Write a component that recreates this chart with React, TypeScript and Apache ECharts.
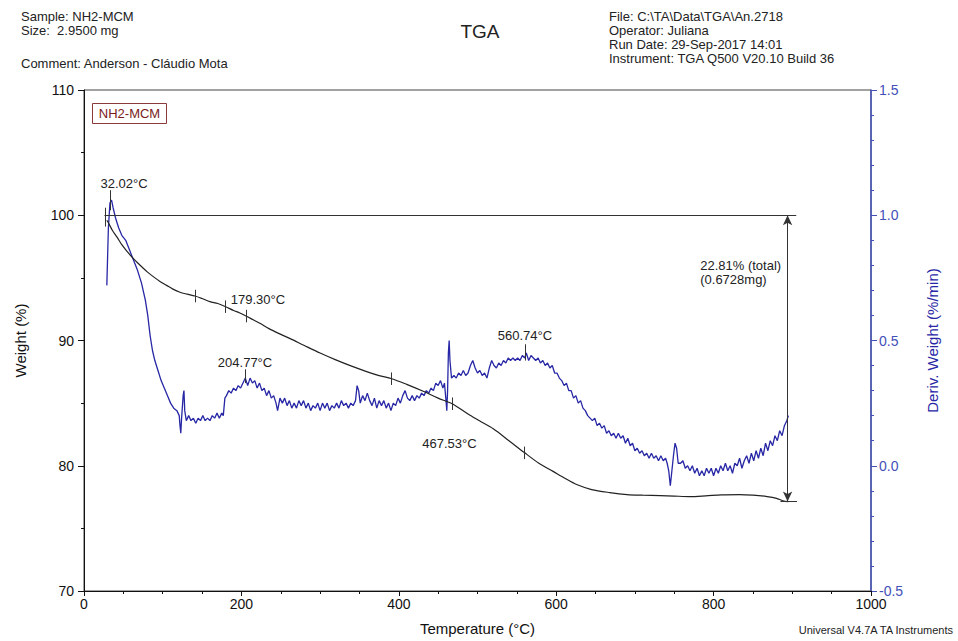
import React, { useEffect, useRef } from "react";
import * as echarts from "echarts";

// Weight (%) vs Temperature (°C)
const weightData: [number, number][] = [
  [29, 99.6], [31, 99.4], [36, 98.8], [42, 98.25], [48, 97.65], [55, 97.1], [61, 96.65], [67, 96.27],
  [74, 95.85], [80, 95.5], [88, 95.1], [97, 94.7], [105, 94.4], [113, 94.1], [122, 93.85], [131, 93.7],
  [141, 93.55], [150, 93.35], [160, 93.1], [170, 92.95], [180, 92.7], [190, 92.4], [198, 92.2], [206, 91.95],
  [215, 91.65], [224, 91.35], [235, 90.95], [248, 90.55], [262, 90.15], [280, 89.6], [300, 89.0], [320, 88.45],
  [340, 87.95], [360, 87.5], [375, 87.2], [391, 86.95], [410, 86.5], [431, 85.95], [450, 85.4], [460, 85.15],
  [468, 84.95], [478, 84.55], [490, 84.05], [505, 83.5], [520, 82.95], [540, 82.0], [560, 81.03], [578, 80.2],
  [596, 79.55], [611, 79.0], [626, 78.5], [645, 78.1], [668, 77.86], [690, 77.7], [710, 77.65], [732, 77.62],
  [750, 77.58], [770, 77.54], [790, 77.6], [810, 77.68], [833, 77.7], [850, 77.65], [868, 77.54], [880, 77.4],
  [888, 77.2], [895, 77.14],
];

// Deriv. Weight (%/min) vs Temperature (°C)
const derivData: [number, number][] = [
  [29, 0.72], [31, 0.95], [33, 1.05], [35, 1.06], [37, 1.03], [40, 0.99], [44, 0.95], [48, 0.92], [53, 0.9],
  [58, 0.86], [63, 0.82], [68, 0.78], [73, 0.73], [78, 0.66], [81, 0.6], [84, 0.52], [87, 0.46], [90, 0.42],
  [94, 0.38], [98, 0.34], [102, 0.31], [106, 0.28], [110, 0.25], [114, 0.23], [118, 0.22], [121, 0.2],
  [122, 0.16], [123, 0.13], [124, 0.19], [126, 0.28], [127, 0.3], [128, 0.22], [130, 0.18], [133, 0.2],
  [136, 0.18], [139, 0.19], [142, 0.17], [145, 0.19], [148, 0.18], [151, 0.2], [154, 0.18], [157, 0.19],
  [160, 0.18], [163, 0.2], [166, 0.19], [169, 0.21], [172, 0.19], [175, 0.21], [177, 0.2], [179, 0.27],
  [181, 0.28], [184, 0.3], [187, 0.29], [190, 0.31], [193, 0.3], [196, 0.32], [199, 0.31], [202, 0.33],
  [205, 0.35], [208, 0.32], [211, 0.35], [214, 0.33], [217, 0.34], [220, 0.31], [223, 0.33], [226, 0.3],
  [229, 0.31], [232, 0.28], [235, 0.3], [238, 0.27], [241, 0.28], [244, 0.25], [246, 0.22], [249, 0.27],
  [252, 0.25], [255, 0.27], [258, 0.24], [261, 0.26], [264, 0.23], [267, 0.25], [270, 0.23], [273, 0.26],
  [276, 0.24], [279, 0.26], [282, 0.23], [285, 0.25], [288, 0.22], [291, 0.24], [294, 0.23], [297, 0.25],
  [300, 0.22], [303, 0.25], [306, 0.23], [309, 0.25], [312, 0.22], [315, 0.24], [318, 0.23], [321, 0.25],
  [324, 0.23], [327, 0.26], [330, 0.24], [333, 0.25], [336, 0.23], [339, 0.25], [342, 0.24], [345, 0.26],
  [347, 0.32], [349, 0.3], [351, 0.25], [354, 0.28], [357, 0.26], [360, 0.29], [363, 0.26], [366, 0.24],
  [369, 0.27], [372, 0.23], [375, 0.26], [378, 0.24], [381, 0.26], [384, 0.23], [387, 0.25], [390, 0.22],
  [393, 0.25], [396, 0.24], [399, 0.27], [402, 0.25], [405, 0.28], [408, 0.3], [411, 0.27], [414, 0.26],
  [417, 0.28], [420, 0.26], [423, 0.28], [426, 0.27], [429, 0.29], [432, 0.28], [435, 0.3], [438, 0.29],
  [441, 0.31], [444, 0.3], [447, 0.33], [450, 0.32], [453, 0.34], [456, 0.31], [458, 0.33], [460, 0.26],
  [461, 0.22], [462, 0.3], [463, 0.45], [464, 0.5], [465, 0.42], [467, 0.35], [470, 0.36], [473, 0.35],
  [476, 0.37], [479, 0.36], [482, 0.38], [485, 0.36], [488, 0.37], [491, 0.4], [494, 0.42], [497, 0.39],
  [500, 0.37], [503, 0.38], [506, 0.36], [509, 0.37], [512, 0.35], [515, 0.39], [518, 0.42], [521, 0.4],
  [524, 0.39], [527, 0.41], [530, 0.4], [533, 0.42], [536, 0.41], [539, 0.43], [542, 0.42], [545, 0.43],
  [548, 0.42], [551, 0.43], [554, 0.42], [557, 0.44], [560, 0.43], [562, 0.45], [565, 0.42], [568, 0.44],
  [571, 0.43], [574, 0.42], [577, 0.43], [580, 0.41], [583, 0.42], [586, 0.4], [589, 0.41], [592, 0.39],
  [595, 0.4], [598, 0.37], [601, 0.37], [604, 0.35], [607, 0.34], [610, 0.32], [613, 0.33], [616, 0.3],
  [619, 0.3], [622, 0.27], [625, 0.28], [628, 0.25], [631, 0.26], [634, 0.23], [637, 0.22], [640, 0.2],
  [643, 0.19], [646, 0.18], [649, 0.19], [652, 0.16], [655, 0.17], [658, 0.15], [661, 0.16], [664, 0.13],
  [667, 0.14], [670, 0.12], [673, 0.13], [676, 0.11], [679, 0.13], [682, 0.11], [685, 0.12], [688, 0.09],
  [691, 0.11], [694, 0.08], [697, 0.09], [700, 0.06], [703, 0.07], [706, 0.05], [709, 0.06], [712, 0.04],
  [715, 0.05], [718, 0.03], [721, 0.05], [724, 0.03], [727, 0.04], [730, 0.02], [733, 0.04], [736, 0.02],
  [739, 0.03], [741, 0.01], [743, -0.02], [745, -0.08], [747, -0.02], [749, 0.04], [751, 0.09], [753, 0.07],
  [755, 0.01], [758, 0.01], [761, 0.02], [764, -0.01], [767, 0.0], [770, -0.02], [773, 0.0], [776, -0.03],
  [779, -0.01], [782, -0.04], [785, -0.02], [788, -0.04], [791, -0.01], [794, -0.03], [797, -0.01], [800, -0.04],
  [803, -0.01], [806, -0.03], [809, 0.0], [812, -0.02], [815, 0.01], [818, -0.02], [821, 0.0], [824, -0.03],
  [827, 0.01], [830, 0.0], [833, 0.03], [836, -0.01], [839, 0.02], [842, 0.04], [845, 0.01], [848, 0.05],
  [851, 0.02], [854, 0.06], [857, 0.03], [860, 0.07], [863, 0.04], [866, 0.09], [869, 0.06], [872, 0.1],
  [875, 0.08], [878, 0.12], [881, 0.1], [884, 0.14], [887, 0.12], [890, 0.16], [893, 0.18], [895, 0.2],
];

// Analysis annotations (temperature, value)
const weightTickTemps: [number, number][] = [
  [141, 93.55], [180, 92.7], [206, 91.95], [391, 86.95], [468, 84.95], [560, 81.03],
];
const derivTickTemps: [number, number, number][] = [
  [33, 1.02, 1.1], [205, 0.33, 0.385], [561, 0.42, 0.485],
];
const tempLabels: { text: string; T: number; w: number }[] = [
  { text: "32.02°C", T: 50.8, w: 102.54 },
  { text: "179.30°C", T: 221, w: 93.25 },
  { text: "204.77°C", T: 204.6, w: 88.25 },
  { text: "560.74°C", T: 560.3, w: 90.4 },
  { text: "467.53°C", T: 464.4, w: 81.75 },
];
const stepStart = 100;
const stepEnd = 77.15;
const stepTemp = 894;
const stepLabels = ["22.81% (total)", "(0.6728mg)"];

const FONT = "'Liberation Sans', Arial, sans-serif";
const BLUE = "#2727a6";
const AXIS_BLUE = "#4250b8";

export default function App() {
  const ref = useRef<HTMLDivElement>(null);
  useEffect(() => {
    if (!ref.current) return;
    const chart = echarts.init(ref.current, null, { renderer: "svg" });

    const weightMarks: any[] = [
      [{ coord: [26, stepStart] }, { coord: [905, stepStart] }],
      [{ coord: [27, 100.6] }, { coord: [27, 99.1] }],
      [
        { coord: [stepTemp, stepStart], symbol: "arrow", symbolSize: [7, 10] },
        { coord: [stepTemp, stepEnd], symbol: "arrow", symbolSize: [7, 10] },
      ],
      [{ coord: [885, stepEnd] }, { coord: [906, stepEnd] }],
      ...weightTickTemps.map(([t, w]) => [{ coord: [t, w + 0.5] }, { coord: [t, w - 0.5] }]),
    ];
    const derivMarks: any[] = derivTickTemps.map(([t, a, b]) => [{ coord: [t, a] }, { coord: [t, b] }]);

    const labelPoints: any[] = [
      ...tempLabels.map((l) => ({
        coord: [l.T, l.w],
        name: l.text,
        label: { show: true, position: "inside", formatter: l.text },
      })),
      {
        coord: [783, 95.95],
        name: stepLabels[0],
        label: { show: true, position: "inside", align: "left", formatter: stepLabels[0] },
      },
      {
        coord: [783, 94.88],
        name: stepLabels[1],
        label: { show: true, position: "inside", align: "left", formatter: stepLabels[1] },
      },
    ];

    const txt = (x: number, y: number, text: string, extra: any = {}) => ({
      type: "text",
      x,
      y,
      silent: true,
      style: {
        text,
        fill: "#222",
        font: `13px ${FONT}`,
        textVerticalAlign: "bottom",
        ...extra,
      },
    });

    chart.setOption({
      animation: false,
      backgroundColor: "#fff",
      textStyle: { fontFamily: FONT },
      grid: {
        left: 84,
        right: 87,
        top: 90,
        bottom: 47,
        show: true,
        borderColor: "#444",
        borderWidth: 1,
        backgroundColor: "transparent",
      },
      xAxis: {
        type: "value",
        min: 0,
        max: 1000,
        interval: 200,
        name: "Temperature (°C)",
        nameLocation: "middle",
        nameGap: 30,
        nameTextStyle: { fontSize: 15, color: "#111", fontFamily: FONT },
        axisLine: { show: true, onZero: false, lineStyle: { color: "#111", width: 1 } },
        axisTick: { show: true, length: 5, lineStyle: { color: "#111" } },
        minorTick: { show: true, splitNumber: 4, length: 3, lineStyle: { color: "#111" } },
        axisLabel: { fontSize: 14, color: "#111", margin: 6, formatter: (v: number) => String(v) },
        splitLine: { show: false },
        minorSplitLine: { show: false },
      },
      yAxis: [
        {
          type: "value",
          min: 70,
          max: 110,
          interval: 10,
          position: "left",
          name: "Weight (%)",
          nameLocation: "middle",
          nameGap: 56,
          nameRotate: 90,
          nameTextStyle: { fontSize: 15, color: "#111", fontFamily: FONT },
          axisLine: { show: true, onZero: false, lineStyle: { color: "#111", width: 1 } },
          axisTick: { show: true, length: 6, lineStyle: { color: "#111" } },
          minorTick: { show: true, splitNumber: 2, length: 3, lineStyle: { color: "#111" } },
          axisLabel: { fontSize: 14, color: "#111", margin: 10 },
          splitLine: { show: false },
        },
        {
          type: "value",
          min: -0.5,
          max: 1.5,
          interval: 0.5,
          position: "right",
          name: "Deriv. Weight (%/min)",
          nameLocation: "middle",
          nameGap: 54,
          nameRotate: 90,
          nameTextStyle: { fontSize: 15, color: BLUE, fontFamily: FONT },
          axisLine: { show: true, onZero: false, lineStyle: { color: AXIS_BLUE, width: 1.5 } },
          axisTick: { show: true, length: 6, lineStyle: { color: AXIS_BLUE } },
          minorTick: { show: true, splitNumber: 5, length: 3, lineStyle: { color: AXIS_BLUE } },
          axisLabel: {
            fontSize: 14,
            color: AXIS_BLUE,
            margin: 8,
            formatter: (v: number) => v.toFixed(1),
          },
          splitLine: { show: false },
        },
      ],
      series: [
        {
          name: "Weight",
          type: "line",
          yAxisIndex: 0,
          data: weightData,
          showSymbol: false,
          symbol: "none",
          smooth: 0.3,
          lineStyle: { color: "#222", width: 1.2 },
          z: 3,
          markLine: {
            silent: true,
            symbol: ["none", "none"],
            label: { show: false },
            lineStyle: { color: "#333", width: 1, type: "solid" },
            emphasis: { disabled: true },
            data: weightMarks,
          },
          markPoint: {
            silent: true,
            symbol: "circle",
            symbolSize: 0,
            label: { fontSize: 13, color: "#222", fontFamily: FONT },
            data: labelPoints,
          },
        },
        {
          name: "Deriv. Weight",
          type: "line",
          yAxisIndex: 1,
          data: derivData,
          showSymbol: false,
          symbol: "none",
          lineStyle: { color: BLUE, width: 1.3 },
          z: 2,
          markLine: {
            silent: true,
            symbol: ["none", "none"],
            label: { show: false },
            lineStyle: { color: "#333", width: 1, type: "solid" },
            emphasis: { disabled: true },
            data: derivMarks,
          },
        },
      ],
      graphic: [
        txt(21, 23, "Sample: NH2-MCM"),
        txt(21, 37, "Size:  2.9500 mg"),
        txt(21, 70, "Comment: Anderson - Cláudio Mota"),
        txt(480, 41, "TGA", { font: `19px ${FONT}`, textAlign: "center" }),
        txt(609, 23, "File: C:\\TA\\Data\\TGA\\An.2718"),
        txt(609, 37, "Operator: Juliana"),
        txt(609, 51, "Run Date: 29-Sep-2017 14:01"),
        txt(609, 65, "Instrument: TGA Q500 V20.10 Build 36"),
        txt(953, 635, "Universal V4.7A TA Instruments", { font: `11px ${FONT}`, textAlign: "right" }),
        {
          type: "rect",
          silent: true,
          shape: { x: 92.5, y: 103.5, width: 74, height: 20 },
          style: { fill: "#fff", stroke: "#8a3a3a", lineWidth: 1 },
        },
        {
          type: "text",
          silent: true,
          x: 129.5,
          y: 113.5,
          style: {
            text: "NH2-MCM",
            fill: "#7a1c1c",
            font: `13px ${FONT}`,
            textAlign: "center",
            textVerticalAlign: "middle",
          },
        },
      ],
    });
    return () => chart.dispose();
  }, []);

  return (
    <div
      ref={ref}
      style={{ position: "fixed", left: 0, top: 0, width: 958, height: 641, background: "#fff" }}
    />
  );
}
